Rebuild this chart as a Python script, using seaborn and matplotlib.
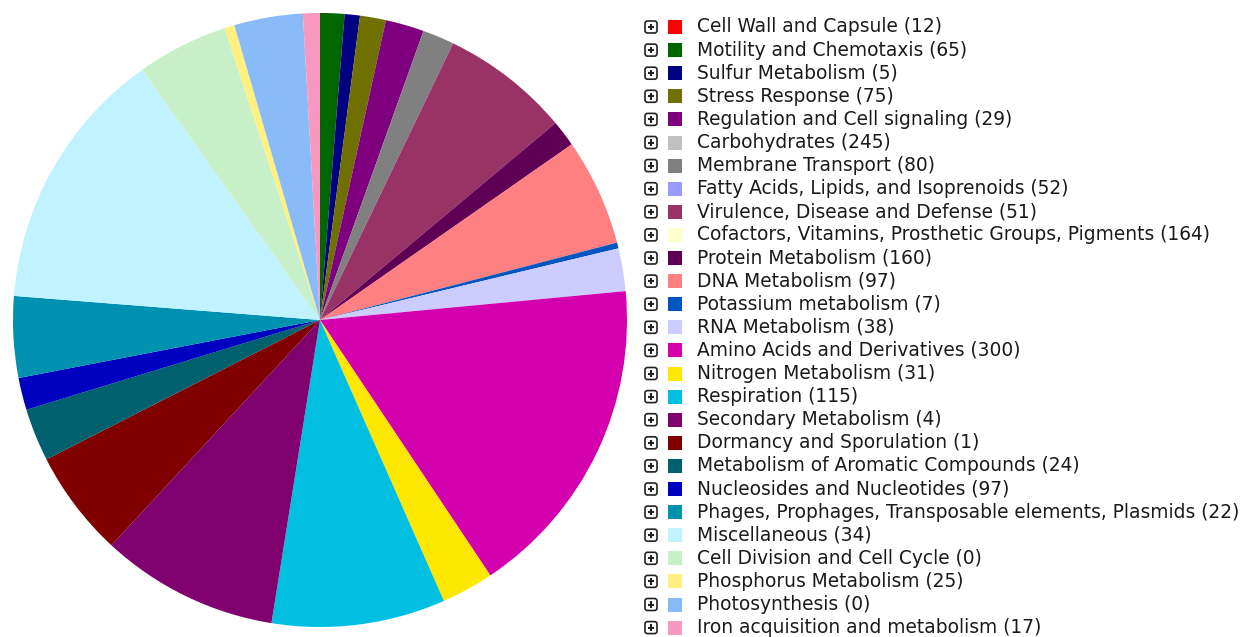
import matplotlib
matplotlib.use("Agg")
import matplotlib.pyplot as plt
import seaborn as sns
from matplotlib.patches import FancyBboxPatch, Rectangle

# ---- data (legend labels / counts as printed, slice sizes in degrees) ----
categories = [
    "Cell Wall and Capsule", "Motility and Chemotaxis", "Sulfur Metabolism",
    "Stress Response", "Regulation and Cell signaling", "Carbohydrates",
    "Membrane Transport", "Fatty Acids, Lipids, and Isoprenoids",
    "Virulence, Disease and Defense",
    "Cofactors, Vitamins, Prosthetic Groups, Pigments", "Protein Metabolism",
    "DNA Metabolism", "Potassium metabolism", "RNA Metabolism",
    "Amino Acids and Derivatives", "Nitrogen Metabolism", "Respiration",
    "Secondary Metabolism", "Dormancy and Sporulation",
    "Metabolism of Aromatic Compounds", "Nucleosides and Nucleotides",
    "Phages, Prophages, Transposable elements, Plasmids", "Miscellaneous",
    "Cell Division and Cell Cycle", "Phosphorus Metabolism", "Photosynthesis",
    "Iron acquisition and metabolism",
]
counts = [12, 65, 5, 75, 29, 245, 80, 52, 51, 164, 160, 97, 7, 38, 300, 31,
          115, 4, 1, 24, 97, 22, 34, 0, 25, 0, 17]
slice_sizes = [0, 4.6, 2.9, 4.9, 7.3, 0, 6.0, 0, 24.4, 0, 5.0, 20.3, 1.1, 8.1,
               61.7, 9.9, 32.9, 33.7, 20.2, 10.0, 6.1, 15.4, 50.1, 17.3, 1.9,
               13.0, 3.2]
colors = [
    "#FF0000", "#006600", "#000080", "#707000", "#7F007F", "#C0C0C0",
    "#808080", "#9999FF", "#993366", "#FFFFCC", "#600055", "#FF8080",
    "#0055C0", "#CCCCFF", "#D500AD", "#FFE800", "#00BFE0", "#800070",
    "#800000", "#00606E", "#0000C0", "#0090B0", "#C0F2FF", "#C8F0C8",
    "#FFF080", "#88BBF8", "#F898C0",
]

sns.set_theme(style="white")
plt.rcParams['font.family'] = ['DejaVu Sans']

W, H = 1248, 637
fig = plt.figure(figsize=(W / 100, H / 100), dpi=100)
ax = fig.add_axes([0, 0, 1, 1])

ax.pie(slice_sizes, colors=colors, startangle=90, counterclock=False,
       center=(320, H - 320), radius=307,
       wedgeprops=dict(linewidth=0, antialiased=True))
ax.set_xlim(0, W)
ax.set_ylim(0, H)
ax.set_aspect('equal')
ax.axis('off')

# ---- legend ----
y0, dy = 27, 23.1
for i, (cat, n, c) in enumerate(zip(categories, counts, colors)):
    yc = H - (y0 + i * dy)
    # expand icon
    box = FancyBboxPatch((645, yc - 6), 12, 12,
                         boxstyle="round,pad=0,rounding_size=2.5",
                         facecolor="white", edgecolor="#222222", linewidth=1.2)
    ax.add_patch(box)
    ax.plot([647.8, 654.2], [yc, yc], color="#222222", lw=1.5,
            solid_capstyle='butt')
    ax.plot([651, 651], [yc - 3.2, yc + 3.2], color="#222222", lw=1.5,
            solid_capstyle='butt')
    # swatch
    ax.add_patch(Rectangle((668, yc - 7), 14, 14, facecolor=c, edgecolor="none"))
    ax.text(697, yc, f"{cat} ({n})", fontsize=13.4, color="#1a1a1a",
            va="center", ha="left")

fig.savefig("out.png", dpi=100, facecolor="white")
